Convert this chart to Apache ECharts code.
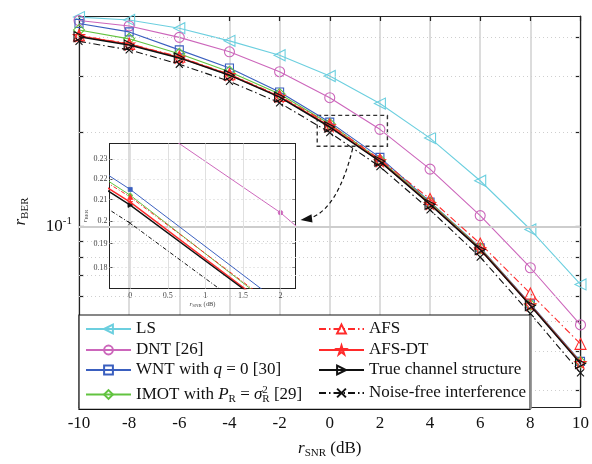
<!DOCTYPE html>
<html><head><meta charset="utf-8">
<script src="https://cdn.jsdelivr.net/npm/echarts@6/dist/echarts.min.js"></script>
<style>html,body{margin:0;padding:0;background:#fff}#c{width:592px;height:464px}</style>
</head><body><div id="c"></div>
<script>
// ---------- data ----------
const snrDb = [-10, -8, -6, -4, -2, 0, 2, 4, 6, 8, 10];
const berLS        = [0.464, 0.4543, 0.4276, 0.3898, 0.3508, 0.3013, 0.2462, 0.1911, 0.1398, 0.0978, 0.0654];
const berDNT       = [0.4525, 0.4348, 0.3999, 0.3597, 0.3109, 0.2570, 0.2038, 0.1523, 0.1083, 0.0739, 0.0486];
const berWNT       = [0.4428, 0.4162, 0.3649, 0.3194, 0.2679, 0.2148, 0.1660, 0.1197, 0.0856, 0.0567, 0.0372];
const berIMOT      = [0.4222, 0.3956, 0.3545, 0.3109, 0.2640, 0.2120, 0.1628, 0.1193, 0.0853, 0.0564, 0.0370];
const berAFS       = [0.4057, 0.3813, 0.3468, 0.3053, 0.2602, 0.2112, 0.1635, 0.1224, 0.0882, 0.0612, 0.0423];
const berAFSDT     = [0.4040, 0.3800, 0.3450, 0.3040, 0.2590, 0.2087, 0.1615, 0.1180, 0.0847, 0.0562, 0.0368];
const berTrue      = [0.4020, 0.3780, 0.3440, 0.3031, 0.2580, 0.2073, 0.1612, 0.1176, 0.0844, 0.0560, 0.0366];
const berNoiseFree = [0.3883, 0.3649, 0.3284, 0.2897, 0.2475, 0.1990, 0.1550, 0.1129, 0.0799, 0.0528, 0.0342];

const seriesNames = ['LS', 'DNT [26]', 'WNT with q = 0 [30]', 'IMOT with P_R = σ_R^2 [29]',
                     'AFS', 'AFS-DT', 'True channel structure', 'Noise-free interference'];
const seriesValues = [berLS, berDNT, berWNT, berIMOT, berAFS, berAFSDT, berTrue, berNoiseFree];

const xTickStep = 2;
const yRange = [0.02663, 0.4677];
const yTickValues = [0.03, 0.04, 0.05, 0.06, 0.07, 0.08, 0.09, 0.1, 0.2, 0.3, 0.4];
const yLabelValues = [0.1];
const yMinorGrid = [0.03, 0.04, 0.05, 0.06, 0.07, 0.08, 0.09, 0.2, 0.3, 0.4];
const yMajorGrid = [0.1];

const insetXRange = [-0.276, 2.2];
const insetYRange = [0.1717, 0.2383];
const insetXTicks = [0, 0.5, 1, 1.5, 2];
const insetXLabels = ['0', '0.5', '1', '1.5', '2'];
const insetYTicks = [0.18, 0.19, 0.2, 0.21, 0.22, 0.23];
const zoomBoxX = [-0.5, 2.3];
const zoomBoxY = [0.18, 0.2257];

// ---------- styles ----------
const F = '"Liberation Serif","Times New Roman",serif';
const STAR = 'path://M50,0L61.8,35.3L99,35.3L69,57.1L80.4,92.7L50,70.8L19.6,92.7L31,57.1L1,35.3L38.2,35.3Z';
const XMARK = 'path://M0,0L10,10M10,0L0,10';
const DASHDOT = [7, 3, 1.5, 3];
const styles = [
  {color: '#6ccfdf', symbol: 'triangle', rot: 90, size: 11, width: 1.1, type: 'solid'},
  {color: '#cc66bb', symbol: 'circle', rot: 0, size: 10, width: 1.1, type: 'solid'},
  {color: '#3a5fbf', symbol: 'rect', rot: 0, size: 8, width: 1.1, type: 'solid'},
  {color: '#62c340', symbol: 'diamond', rot: 0, size: 11, width: 1.1, type: 'solid'},
  {color: '#ff2a2a', symbol: 'triangle', rot: 0, size: 11, width: 1.1, type: DASHDOT},
  {color: '#ff2a2a', symbol: STAR, rot: 0, size: 11, width: 1.6, type: 'solid'},
  {color: '#111111', symbol: 'triangle', rot: -90, size: 10, width: 1.5, type: 'solid'},
  {color: '#111111', symbol: XMARK, rot: 0, size: 7, width: 1.1, type: DASHDOT}
];

const series = [];
seriesNames.forEach((name, k) => {
  const s = styles[k];
  const pts = snrDb.map((x, i) => [x, seriesValues[k][i]]);
  series.push({
    type: 'line', name: name, xAxisIndex: 0, yAxisIndex: 0, data: pts,
    symbol: s.symbol, symbolSize: s.size, symbolRotate: s.rot, showSymbol: true,
    itemStyle: {color: 'rgba(255,255,255,0)', borderColor: s.color, borderWidth: 1.1},
    lineStyle: {color: s.color, width: s.width, type: s.type},
    z: 3 + k, animation: false, silent: true
  });
  series.push({
    type: 'line', name: 'inset-' + k, xAxisIndex: 2, yAxisIndex: 2, data: pts,
    symbol: s.symbol, symbolSize: Math.max(4, s.size * 0.45), symbolRotate: s.rot, showSymbol: true,
    itemStyle: {color: s.color, borderColor: s.color, borderWidth: 0.8},
    lineStyle: {color: s.color, width: s.width * 0.9, type: s.type === 'solid' ? 'solid' : [4, 2, 1, 2]},
    clip: true, z: 3 + k, animation: false, silent: true
  });
});

// grid lines (main) via markLine
series[0].markLine = {
  silent: true, symbol: ['none', 'none'], label: {show: false}, animation: false,
  lineStyle: {color: '#cfcfcf', type: [1, 3], width: 1},
  data: yMinorGrid.map(v => ({yAxis: v})).concat(
    yMajorGrid.map(v => ({yAxis: v, lineStyle: {color: '#cdcdcd', type: 'solid', width: 2}})))
};
// grid lines (inset)
series[1].markLine = {
  silent: true, symbol: ['none', 'none'], label: {show: false}, animation: false,
  lineStyle: {color: '#cfcfcf', type: [1, 3], width: 1},
  data: insetYTicks.map(v => ({yAxis: v})).concat(
    insetXTicks.map(v => ({xAxis: v, lineStyle: {color: '#e0e0e0', type: 'solid', width: 1}})))
};
// zoom box
series[12].markArea = {
  silent: true, animation: false,
  itemStyle: {color: 'rgba(0,0,0,0)', borderColor: '#333', borderWidth: 1.4, borderType: [4, 3]},
  data: [[{coord: [zoomBoxX[0], zoomBoxY[1]]}, {coord: [zoomBoxX[1], zoomBoxY[0]]}]]
};

const richBase = {
  n: {fontFamily: F, fontSize: 17, color: '#111'},
  i: {fontFamily: F, fontSize: 17, fontStyle: 'italic', color: '#111'},
  sb: {fontFamily: F, fontSize: 11, color: '#111', padding: [9, 0, 0, 0]},
  sp0: {fontFamily: F, fontSize: 11, color: '#111', padding: [0, 0, 9, 0], width: 0}
};
const legendText = {
  'WNT with q = 0 [30]': '{n|WNT with }{i|q}{n| = 0 [30]}',
  'IMOT with P_R = σ_R^2 [29]': '{n|IMOT with }{i|P}{sb|R}{n| = }{i|σ}{sp0|2}{sb|R}{n| [29]}'
};
const rowCenters = [326, 347, 367, 390];
const legendItemH = 11;
const legends = seriesNames.map((name, k) => ({
  data: [name], orient: 'vertical',
  left: k < 4 ? 85 : 318, top: rowCenters[k % 4] - legendItemH / 2,
  itemWidth: 45, itemHeight: legendItemH, itemGap: 0, padding: 0, selectedMode: false, z: 60,
  formatter: n => legendText[n] || ('{n|' + n + '}'),
  textStyle: {fontFamily: F, fontSize: 17, color: '#111', rich: richBase}
}));

const axisLineStyle = {color: '#222', width: 1.2};
const smallRich = {
  n: {fontFamily: F, fontSize: 6.5, color: '#444'},
  i: {fontFamily: F, fontSize: 7, fontStyle: 'italic', color: '#444'},
  sb: {fontFamily: F, fontSize: 5, color: '#444', padding: [4, 0, 0, 0]}
};

const option = {
  backgroundColor: '#fff',
  animation: false,
  grid: [
    {left: 79, right: 9.5, top: 16, bottom: 54.7},
    {left: 109.5, top: 143.5, width: 186, height: 145}
  ],
  xAxis: [
    {gridIndex: 0, type: 'value', position: 'bottom', min: -10, max: 10, interval: xTickStep,
     axisLine: {onZero: false, lineStyle: axisLineStyle},
     axisTick: {inside: true, length: 5, lineStyle: axisLineStyle},
     axisLabel: {fontFamily: F, fontSize: 17, color: '#111', margin: 8},
     splitLine: {show: true, lineStyle: {color: '#dcdcdc', width: 2}},
     name: '{i|r}{sb|SNR}{n| (dB)}', nameLocation: 'middle', nameGap: 32,
     nameTextStyle: {rich: richBase}},
    {gridIndex: 0, type: 'value', position: 'top', min: -10, max: 10, interval: xTickStep,
     axisLine: {onZero: false, lineStyle: axisLineStyle},
     axisTick: {inside: true, length: 5, lineStyle: axisLineStyle},
     axisLabel: {show: false}, splitLine: {show: false}},
    {gridIndex: 1, type: 'value', position: 'bottom', min: insetXRange[0], max: insetXRange[1],
     axisLine: {onZero: false, lineStyle: {color: '#222', width: 1}},
     axisTick: {inside: true, length: 3, customValues: insetXTicks, lineStyle: {color: '#222', width: 0.8}},
     axisLabel: {customValues: insetXTicks, fontFamily: F, fontSize: 8, color: '#444', margin: 3,
                 formatter: v => insetXLabels[insetXTicks.indexOf(v)] ?? String(v)},
     splitLine: {show: false},
     name: '{i|r}{sb|SNR}{n| (dB)}', nameLocation: 'middle', nameGap: 11,
     nameTextStyle: {rich: smallRich}},
    {gridIndex: 1, type: 'value', position: 'top', min: insetXRange[0], max: insetXRange[1],
     axisLine: {onZero: false, lineStyle: {color: '#222', width: 1}},
     axisTick: {inside: true, length: 3, customValues: insetXTicks, lineStyle: {color: '#222', width: 0.8}},
     axisLabel: {show: false}, splitLine: {show: false}}
  ],
  yAxis: [
    {gridIndex: 0, type: 'log', logBase: 10, position: 'left', min: yRange[0], max: yRange[1],
     axisLine: {onZero: false, lineStyle: axisLineStyle},
     axisTick: {inside: true, length: 5, customValues: yTickValues, lineStyle: axisLineStyle},
     axisLabel: {customValues: yLabelValues, margin: 7,
                 formatter: v => Math.abs(v - 0.1) < 1e-9 ? '{b|10}{s|-1}' : '',
                 rich: {b: {fontFamily: F, fontSize: 17, color: '#111'},
                        s: {fontFamily: F, fontSize: 11, color: '#111', padding: [0, 0, 10, 0]}}},
     splitLine: {show: false},
     name: '{i|r}{sb|BER}', nameLocation: 'middle', nameGap: 48, nameRotate: 90,
     nameTextStyle: {rich: richBase}},
    {gridIndex: 0, type: 'log', logBase: 10, position: 'right', min: yRange[0], max: yRange[1],
     axisLine: {onZero: false, lineStyle: axisLineStyle},
     axisTick: {inside: true, length: 5, customValues: yTickValues, lineStyle: axisLineStyle},
     axisLabel: {show: false}, splitLine: {show: false}},
    {gridIndex: 1, type: 'log', logBase: 10, position: 'left', min: insetYRange[0], max: insetYRange[1],
     axisLine: {onZero: false, lineStyle: {color: '#222', width: 1}},
     axisTick: {inside: true, length: 3, customValues: insetYTicks, lineStyle: {color: '#222', width: 0.8}},
     axisLabel: {customValues: insetYTicks, fontFamily: F, fontSize: 8, color: '#444', margin: 2,
                 formatter: v => String(Math.round(v * 100) / 100)},
     splitLine: {show: false},
     name: '{i|r}{sb|BER}', nameLocation: 'middle', nameGap: 15, nameRotate: 90,
     nameTextStyle: {rich: smallRich}},
    {gridIndex: 1, type: 'log', logBase: 10, position: 'right', min: insetYRange[0], max: insetYRange[1],
     axisLine: {onZero: false, lineStyle: {color: '#222', width: 1}},
     axisTick: {inside: true, length: 3, customValues: insetYTicks, lineStyle: {color: '#222', width: 0.8}},
     axisLabel: {show: false}, splitLine: {show: false}}
  ],
  legend: legends,
  graphic: [
    {type: 'rect', shape: {x: 79, y: 315, width: 451, height: 94.3},
     style: {fill: '#fff', stroke: '#111', lineWidth: 1.2}, z: 50},
    {type: 'line', shape: {x1: 530.5, y1: 315.5, x2: 530.5, y2: 409}, style: {stroke: '#8a8a8a', lineWidth: 2.5}, z: 51},
    {type: 'bezierCurve', shape: {x1: 352.7, y1: 148.3, x2: 311, y2: 217.8, cpx1: 338, cpy1: 208},
     style: {stroke: '#111', lineWidth: 1.2, lineDash: [4, 3], fill: null}, z: 40},
    {type: 'polygon', shape: {points: [[300.5, 220], [311.5, 214.2], [312.5, 222.6]]}, style: {fill: '#111'}, z: 40}
  ],
  series: series
};

const chart = echarts.init(document.getElementById('c'), null, {renderer: 'canvas'});
chart.setOption(option);
</script>
</body></html>
